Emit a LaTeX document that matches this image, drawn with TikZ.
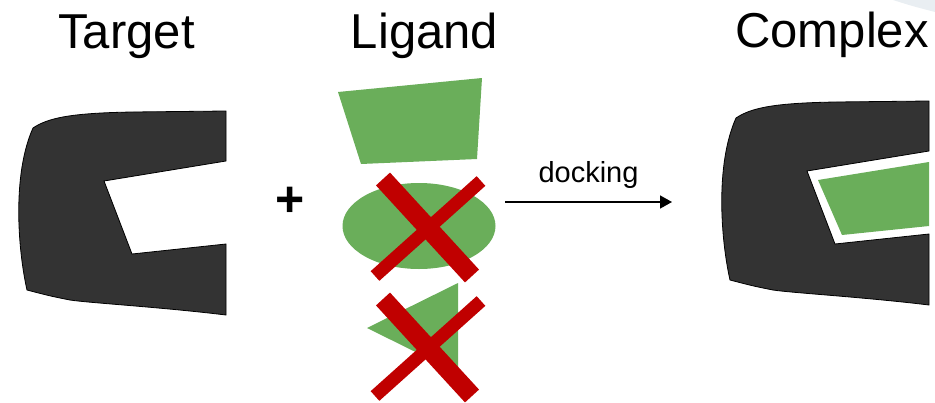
\documentclass[tikz,border=0pt]{standalone}
\usepackage{fontspec}
\setmainfont{Liberation Sans}
\usetikzlibrary{arrows.meta}
\definecolor{pocket}{RGB}{51,51,51}
\definecolor{leaf}{RGB}{106,174,90}
\definecolor{cross}{RGB}{192,0,0}
\definecolor{haze}{RGB}{233,238,242}
\tikzset{
  title/.style={font=\fontsize{49}{58}\selectfont, anchor=base, inner sep=0},
  ligandfill/.style={fill=leaf},
  thickbar/.style={draw=cross, line width=19},
  thinbar/.style={draw=cross, line width=13},
  receptor/.pic={
    \filldraw[fill=pocket, draw=black, line width=0.8]
      (33,128) .. controls (48,118) and (70,113) .. (133,112) -- (226,111)
      -- (226,161) -- (104,181) -- (132,254) -- (226,244) -- (226,315)
      .. controls (160,307) and (90,303) .. (70,300)
      .. controls (50,296) .. (27,290)
      .. controls (18,250) and (12,175) .. (33,128) -- cycle;
  }
}
\begin{document}
\begin{tikzpicture}[x=1pt, y=-1pt]
\useasboundingbox (0,0) rectangle (935,402);
\clip (0,0) rectangle (935,402);

% faint arc in the corner
\fill[haze] (893,0) .. controls (912,6) .. (935,12) -- (935,0) -- cycle;

% headings
\node[title] (ttarget) at (126.5,48) {Target};
\node[title] (tligand) at (424.5,48) {Ligand};
\node[title] (tcomplex) at (832,47) {Complex};

% receptor alone
\pic (target) at (0,0) {receptor};

% plus sign
\node[font=\fontsize{50}{60}\selectfont\bfseries, anchor=base, inner sep=0] (plus) at (290,216) {+};

% candidate ligands
\fill[ligandfill] (338,92) -- (482,78) -- (477,159) -- (361,164) -- cycle;
\fill[ligandfill] (419,226) ellipse[x radius=76.5, y radius=43];
\fill[ligandfill] (458,283) -- (367,328) -- (458,373) -- cycle;

% rejected ligands
\draw[thickbar] (383,179) -- (472,276);
\draw[thinbar]  (481,181) -- (375,276);
\draw[thickbar] (383,299) -- (472,396);
\draw[thinbar]  (481,301) -- (375,396);

% docking arrow
\coordinate (dockstart) at (505,202);
\coordinate (dockend) at (672,202);
\draw[line width=1.6, -{Triangle[length=12, width=13]}] (dockstart) -- node[above=13, font=\fontsize{29}{35}\selectfont, inner sep=0] (dlabel) {docking} (dockend);

% bound complex
\pic (complex) at (703,-10) {receptor};
\fill[ligandfill] (818,180) -- (929,162) -- (929,226) -- (842,235) -- cycle;
\end{tikzpicture}
\end{document}
